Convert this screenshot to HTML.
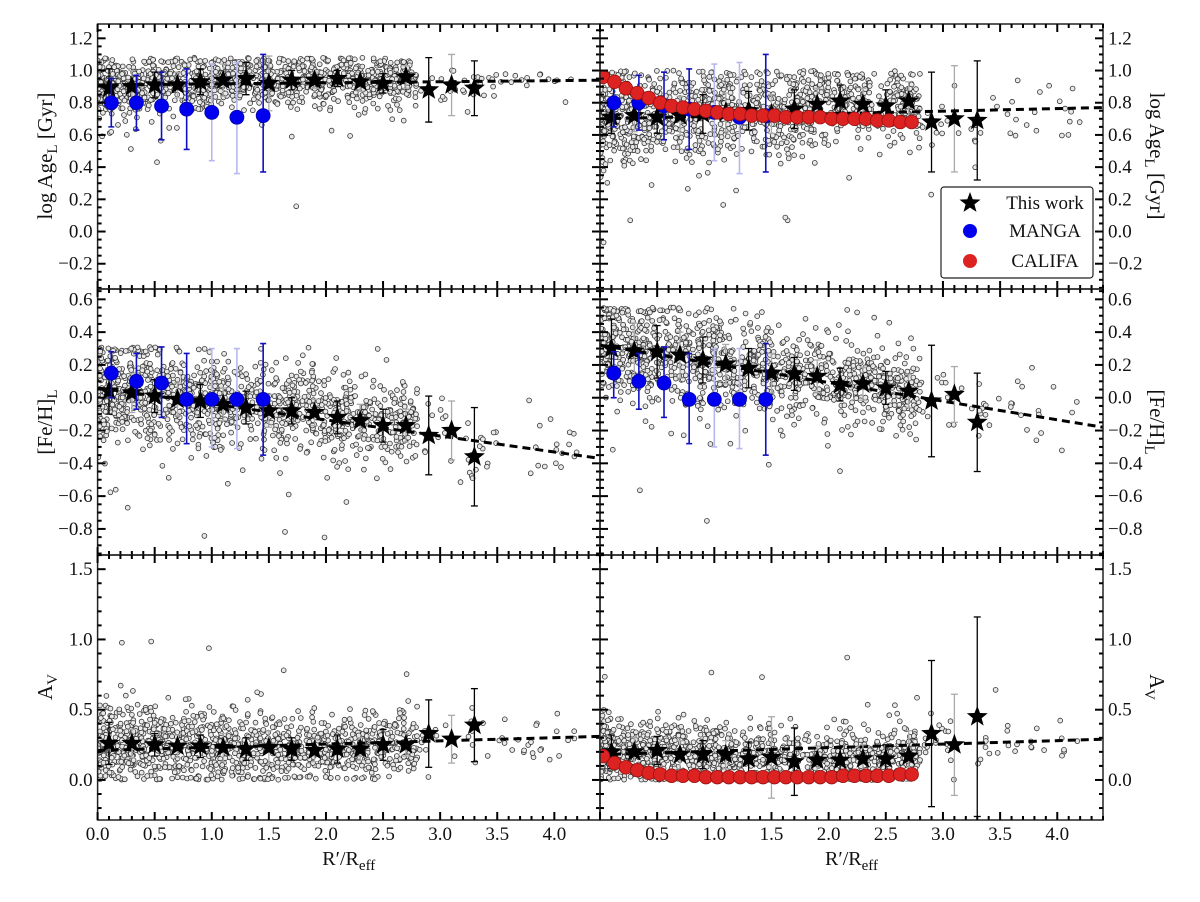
<!DOCTYPE html>
<html><head><meta charset="utf-8"><style>
html,body{margin:0;padding:0;background:#fff;}
svg{display:block;font-family:"Liberation Serif","DejaVu Serif",serif;}
text{font-family:"Liberation Serif","DejaVu Serif",serif;}
</style></head><body>
<svg id="chart" width="1200" height="902" viewBox="0 0 1200 902" xmlns="http://www.w3.org/2000/svg" font-family="Liberation Serif, serif">
<rect width="1200" height="902" fill="#fff"/>
</svg>
<script>
// ---------- data ----------
const starX = [0.1,0.3,0.5,0.7,0.9,1.1,1.3,1.5,1.7,1.9,2.1,2.3,2.5,2.7,2.9,3.1,3.3];
const ageStarLeft = [0.89,0.90,0.91,0.91,0.93,0.94,0.95,0.92,0.94,0.94,0.95,0.93,0.92,0.96,0.88,0.91,0.89];
const ageErrLeft = [0.12,0.10,0.08,0.08,0.08,0.10,0.10,0.17,0.06,0.05,0.05,0.06,0.06,0.07,0.20,0.19,0.17];
const ageStarRight = [0.71,0.72,0.71,0.72,0.73,0.74,0.75,0.73,0.76,0.79,0.81,0.79,0.78,0.81,0.68,0.70,0.69];
const ageErrRight = [0.10,0.10,0.10,0.12,0.12,0.12,0.12,0.12,0.12,0.10,0.10,0.10,0.10,0.12,0.31,0.33,0.37];
const fehStarLeft = [0.04,0.03,0.01,-0.01,-0.02,-0.04,-0.06,-0.08,-0.08,-0.09,-0.12,-0.14,-0.17,-0.17,-0.23,-0.20,-0.36];
const fehErrLeft = [0.14,0.12,0.10,0.10,0.10,0.10,0.10,0.10,0.08,0.08,0.10,0.10,0.10,0.10,0.24,0.18,0.30];
const fehStarRight = [0.30,0.285,0.28,0.26,0.23,0.205,0.18,0.15,0.145,0.13,0.08,0.085,0.06,0.04,-0.02,0.02,-0.15];
const fehErrRight = [0.18,0.17,0.16,0.14,0.14,0.12,0.12,0.12,0.10,0.10,0.10,0.10,0.10,0.10,0.34,0.17,0.30];
const avStarLeft = [0.26,0.26,0.25,0.24,0.24,0.23,0.22,0.23,0.22,0.21,0.22,0.22,0.25,0.25,0.33,0.29,0.39];
const avErrLeft = [0.15,0.10,0.08,0.08,0.08,0.10,0.08,0.12,0.08,0.08,0.10,0.08,0.11,0.08,0.24,0.17,0.26];
const avStarRight = [0.20,0.20,0.21,0.18,0.18,0.18,0.15,0.16,0.13,0.14,0.14,0.15,0.15,0.17,0.33,0.25,0.45];
const avErrRight = [0.12,0.10,0.10,0.10,0.10,0.10,0.12,0.29,0.24,0.10,0.10,0.10,0.10,0.18,0.52,0.36,0.71];
const fitAgeLeft = [0.91,0.94];
const fitAgeRight = [0.70,0.77];
const fitFehLeft = [0.06,-0.37];
const fitFehRight = [0.32,-0.18];
const fitAvLeft = [0.21,0.31];
const fitAvRight = [0.18,0.29];
const mangaX = [0.12,0.34,0.56,0.78,1.0,1.22,1.45];
const mangaAge = [0.80,0.80,0.78,0.76,0.74,0.71,0.72];
const mangaAgeLo = [0.65,0.63,0.57,0.51,0.44,0.36,0.37];
const mangaAgeHi = [0.95,0.97,0.99,1.01,1.04,1.05,1.10];
const mangaFeh = [0.15,0.10,0.09,-0.01,-0.01,-0.01,-0.01];
const mangaFehLo = [0.0,-0.07,-0.12,-0.28,-0.30,-0.31,-0.35];
const mangaFehHi = [0.28,0.27,0.31,0.27,0.30,0.30,0.33];
const califaX = [0.0,0.1,0.2,0.3,0.4,0.5,0.6,0.7,0.8,0.9,1.0,1.1,1.2,1.3,1.4,1.5,1.6,1.7,1.8,1.9,2.0,2.1,2.2,2.3,2.4,2.5,2.6,2.7];
const califaAge = [0.96,0.93,0.89,0.86,0.83,0.80,0.78,0.77,0.76,0.75,0.74,0.73,0.73,0.72,0.72,0.72,0.71,0.71,0.71,0.71,0.70,0.70,0.70,0.70,0.69,0.69,0.68,0.68];
const califaAv = [0.17,0.12,0.09,0.07,0.05,0.04,0.03,0.03,0.03,0.02,0.02,0.02,0.02,0.02,0.02,0.02,0.02,0.02,0.02,0.02,0.02,0.03,0.03,0.03,0.03,0.03,0.04,0.04];
const xTickLabelsLeft = ["0.0","0.5","1.0","1.5","2.0","2.5","3.0","3.5","4.0"];
const xTickLabelsRight = ["0.5","1.0","1.5","2.0","2.5","3.0","3.5","4.0"];
const ageTicks = [-0.2,0.0,0.2,0.4,0.6,0.8,1.0,1.2];
const fehTicks = [-0.8,-0.6,-0.4,-0.2,0.0,0.2,0.4,0.6];
const avTicks = [0.0,0.5,1.0,1.5];

// ---------- helpers ----------
const NS = "http://www.w3.org/2000/svg";
const SERIF = '"Liberation Serif", serif';
const svg = document.getElementById('chart');
function mk(tag, attrs, parent){
  const e = document.createElementNS(NS, tag);
  for (const k in attrs) e.setAttribute(k, attrs[k]);
  if (tag==='text') e.setAttribute('font-family', SERIF);
  (parent||svg).appendChild(e);
  return e;
}
let seed = 12345;
function rnd(){ seed = (seed*1103515245 + 12345) % 2147483648; return seed/2147483648; }
function gauss(){ let u=rnd()||1e-6, v=rnd(); return Math.sqrt(-2*Math.log(u))*Math.cos(2*Math.PI*v); }
function interp(xs, ys, x){
  if (x<=xs[0]) return ys[0];
  for (let i=1;i<xs.length;i++) if (x<=xs[i]){ const t=(x-xs[i-1])/(xs[i]-xs[i-1]); return ys[i-1]+t*(ys[i]-ys[i-1]); }
  return ys[ys.length-1];
}
function starPath(cx, cy, R){
  let d=""; const r=R*0.42;
  for (let i=0;i<10;i++){ const a=-Math.PI/2+i*Math.PI/5; const rr=i%2?r:R;
    d+=(i?"L":"M")+(cx+rr*Math.cos(a)).toFixed(1)+","+(cy+rr*Math.sin(a)).toFixed(1); }
  return d+"Z";
}

const XL = [97.6, 600], XR = [600, 1103];
const rows = [
  {y0:24, y1:289, ymin:-0.357, ymax:1.289, major:0.2, minor:0.05, ticks:ageTicks, name:'age'},
  {y0:289, y1:555, ymin:-0.959, ymax:0.663, major:0.2, minor:0.05, ticks:fehTicks, name:'feh'},
  {y0:555, y1:820, ymin:-0.285, ymax:1.601, major:0.5, minor:0.1, ticks:avTicks, name:'av'}
];
const panelData = [
  [{star:ageStarLeft, err:ageErrLeft, fit:fitAgeLeft, manga:[mangaAge,mangaAgeLo,mangaAgeHi], califa:null, sig:0.075, cap:[0.0,1.08]},
   {star:ageStarRight, err:ageErrRight, fit:fitAgeRight, manga:[mangaAge,mangaAgeLo,mangaAgeHi], califa:califaAge, sig:0.12, cap:[-0.3,1.0]}],
  [{star:fehStarLeft, err:fehErrLeft, fit:fitFehLeft, manga:[mangaFeh,mangaFehLo,mangaFehHi], califa:null, sig:0.13, cap:[-0.86,0.31]},
   {star:fehStarRight, err:fehErrRight, fit:fitFehRight, manga:[mangaFeh,mangaFehLo,mangaFehHi], califa:null, sig:0.13, cap:[-0.8,0.55]}],
  [{star:avStarLeft, err:avErrLeft, fit:fitAvLeft, manga:null, califa:null, sig:0.12, cap:[0.0,1.0]},
   {star:avStarRight, err:avErrRight, fit:fitAvRight, manga:null, califa:califaAv, sig:0.1, cap:[0.0,1.5]}]
];

rows.forEach((row, ri) => {
  [0,1].forEach(ci => {
    const xr = ci===0 ? XL : XR;
    const sx = v => xr[0] + v/4.4*(xr[1]-xr[0]);
    const sy = v => row.y1 - (v-row.ymin)/(row.ymax-row.ymin)*(row.y1-row.y0);
    const P = panelData[ri][ci];
    const g = mk('g', {});
    
    
    const clipId = 'clip'+ri+ci;
    const cp = mk('clipPath', {id:clipId}, g);
    mk('rect', {x:xr[0], y:row.y0, width:xr[1]-xr[0], height:row.y1-row.y0}, cp);
    const inner = mk('g', {'clip-path':'url(#'+clipId+')'}, g);

    const sc = mk('g', {fill:'#e8e8e8', stroke:'#333', 'stroke-width':0.8}, inner);
    
    
    const N = 1200;
    for (let i=0;i<N;i++){
      let x = rnd()<0.9 ? Math.pow(rnd(),1.25)*2.8 : rnd()*4.2;
      let c = x<=3.3 ? interp(starX, P.star, x) : P.fit[0]+(P.fit[1]-P.fit[0])*x/4.4;
      let y = c + gauss()*P.sig*(0.9+0.3*(1-x/3));
      if (rnd()<0.04) y = c + gauss()*P.sig*3;
      if (y>P.cap[1]) y = P.cap[1]-rnd()*0.03;
      if (y<P.cap[0]) y = P.cap[0]+rnd()*0.03;
      mk('circle', {cx:sx(x).toFixed(1), cy:sy(y).toFixed(1), r:2.4}, sc);
    }
    const fl = mk('line', {x1:sx(0), y1:sy(P.fit[0]), x2:sx(4.4), y2:sy(P.fit[1]), stroke:'#000', 'stroke-width':3, 'stroke-dasharray':'8,5'}, inner);
    
    
    starX.forEach((x,i) => {
      const col = i%2===0 ? '#000' : '#aaa';
      const eb = mk('g', {stroke:col, 'stroke-width':1.3}, inner);
      
      
      const yl = sy(P.star[i]-P.err[i]), yh = sy(P.star[i]+P.err[i]);
      mk('line', {x1:sx(x), y1:yl, x2:sx(x), y2:yh}, eb);
      mk('line', {x1:sx(x)-3.5, y1:yl, x2:sx(x)+3.5, y2:yl}, eb);
      mk('line', {x1:sx(x)-3.5, y1:yh, x2:sx(x)+3.5, y2:yh}, eb);
    });
    starX.forEach((x,i) => {
      const st = mk('path', {d:starPath(sx(x), sy(P.star[i]), 11), fill:'#000'}, inner);
      
      
    });
    if (P.manga){
      mangaX.forEach((x,i) => {
        const col = (i===4||i===5) ? '#b8b8f0' : '#1010c0';
        const eb = mk('g', {stroke:col, 'stroke-width':1.6}, inner);
        
        
        const yl = sy(P.manga[1][i]), yh = sy(P.manga[2][i]);
        mk('line', {x1:sx(x), y1:yl, x2:sx(x), y2:yh}, eb);
        mk('line', {x1:sx(x)-3, y1:yl, x2:sx(x)+3, y2:yl}, eb);
        mk('line', {x1:sx(x)-3, y1:yh, x2:sx(x)+3, y2:yh}, eb);
      });
      mangaX.forEach((x,i) => {
        const c = mk('circle', {cx:sx(x), cy:sy(P.manga[0][i]), r:7, fill:'#0000ee', stroke:'#0000aa', 'stroke-width':0.8}, inner);
        
        
      });
    }
    if (P.califa){
      califaX.forEach((x,i) => {
        const c = mk('circle', {cx:sx(x)+3, cy:sy(P.califa[i]), r:6.8, fill:'#dd2222', stroke:'#991111', 'stroke-width':0.8}, inner);
        
        
      });
    }
    const fr = mk('rect', {x:xr[0], y:row.y0, width:xr[1]-xr[0], height:row.y1-row.y0, fill:'none', stroke:'#222', 'stroke-width':1.5}, g);
    
    
    const tk = mk('g', {stroke:'#000', 'stroke-width':2}, g);
    
    
    for (let k=0;k<=44;k++){
      const v=k/10, X=sx(v), L = (k%5===0)?8:4;
      mk('line', {x1:X, y1:row.y1, x2:X, y2:row.y1-L}, tk);
      mk('line', {x1:X, y1:row.y0, x2:X, y2:row.y0+L}, tk);
    }
    const nMin = Math.ceil(row.ymin/row.minor - 1e-6), nMax = Math.floor(row.ymax/row.minor + 1e-6);
    for (let k=nMin;k<=nMax;k++){
      const v=k*row.minor, Y=sy(v);
      const isMaj = Math.abs(v/row.major - Math.round(v/row.major))<1e-6;
      const L = isMaj?8:4;
      mk('line', {x1:xr[0], y1:Y, x2:xr[0]+L, y2:Y}, tk);
      mk('line', {x1:xr[1], y1:Y, x2:xr[1]-L, y2:Y}, tk);
    }
    row.ticks.forEach(v => {
      const lbl = (v<0?'\u2212':'') + Math.abs(v).toFixed(1);
      const t = mk('text', {x: ci===0 ? xr[0]-5 : xr[1]+5, y: sy(v)+6, 'font-size':19, 'text-anchor': ci===0?'end':'start', fill:'#111'}, g);
      t.textContent = lbl;
      
      
    });
    if (ri===2){
      const labs = ci===0 ? xTickLabelsLeft : xTickLabelsRight;
      labs.forEach(s => {
        const t = mk('text', {x:sx(parseFloat(s)), y:row.y1+20, 'font-size':19, 'text-anchor':'middle', fill:'#111'}, g);
        t.textContent = s;
        
        
      });
      const xt = mk('text', {x:(xr[0]+xr[1])/2, y:row.y1+45, 'font-size':20, 'text-anchor':'middle', fill:'#111'}, g);
      xt.innerHTML = 'R\u2032/R<tspan font-size="15" dy="5">eff</tspan>';
      
      
    }
  });
});

const yTitles = [
  ['log Age', 'L', ' [Gyr]', 156],
  ['[Fe/H]', 'L', '', 422],
  ['A', 'V', '', 687]
];
yTitles.forEach(([a,sub,b,cy]) => {
  const tl = mk('text', {x:0, y:0, 'font-size':21, 'text-anchor':'middle', fill:'#111', transform:'translate(52,'+cy+') rotate(-90)'});
  tl.innerHTML = a + '<tspan font-size="15" dy="5">'+sub+'</tspan><tspan dy="-5">'+b+'</tspan>';
  
  
  const tr = mk('text', {x:0, y:0, 'font-size':21, 'text-anchor':'middle', fill:'#111', transform:'translate(1150,'+cy+') rotate(90)'});
  tr.innerHTML = a + '<tspan font-size="15" dy="5">'+sub+'</tspan><tspan dy="-5">'+b+'</tspan>';
  
  
});

const lg = mk('g', {});


mk('rect', {x:941, y:187, width:152, height:91, rx:3, fill:'#fff', stroke:'#222', 'stroke-width':1.2}, lg);
const le1 = mk('path', {d:starPath(970, 203, 11), fill:'#000'}, lg);


const le2 = mk('circle', {cx:970, cy:231, r:7, fill:'#0000ee'}, lg);


const le3 = mk('circle', {cx:970, cy:261, r:7, fill:'#dd2222'}, lg);


[['This work',209],['MANGA',237],['CALIFA',267]].forEach(([s,y]) => {
  const t = mk('text', {x:1045, y:y, 'font-size':19, 'text-anchor':'middle', fill:'#111'}, lg);
  t.textContent = s;
  
  
});
</script>
</body></html>
